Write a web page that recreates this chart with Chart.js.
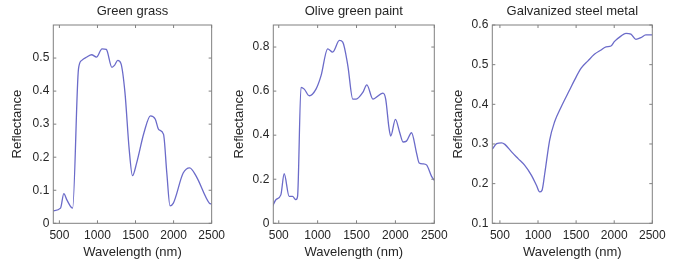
<!DOCTYPE html>
<html>
<head>
<meta charset="utf-8">
<script src="https://cdn.jsdelivr.net/npm/chart.js@4.4.1/dist/chart.umd.min.js"></script>
<style>
    html, body { margin: 0; padding: 0; background: #fff; }
    #wrap { position: relative; width: 694px; height: 266px; overflow: hidden; }
    canvas { position: absolute; top: 0; }
</style>
</head>
<body>
<div id="wrap">
    <canvas id="grass" width="230" height="266" style="left:0px"></canvas>
    <canvas id="paint" width="230" height="266" style="left:230px"></canvas>
    <canvas id="steel" width="244" height="266" style="left:450px"></canvas>
</div>
<script>
// (nm / reflectance)
const grassWl = [420, 515, 558, 600, 674, 751, 794, 860, 923, 987, 1060, 1116, 1190, 1224, 1267, 1309, 1361, 1417, 1460, 1515, 1611, 1696, 1760, 1804, 1868, 1911, 1953, 1997, 2126, 2211, 2298, 2469, 2500];
const grassRefl = [0.038, 0.046, 0.09, 0.07, 0.046, 0.467, 0.493, 0.503, 0.51, 0.503, 0.528, 0.526, 0.472, 0.478, 0.493, 0.483, 0.396, 0.223, 0.144, 0.183, 0.274, 0.325, 0.315, 0.284, 0.269, 0.152, 0.053, 0.061, 0.152, 0.168, 0.142, 0.061, 0.058];

const paintWl = [420, 463, 527, 570, 634, 677, 721, 742, 786, 828, 893, 979, 1044, 1129, 1194, 1280, 1323, 1388, 1452, 1496, 1581, 1633, 1711, 1840, 1875, 1917, 1940, 2000, 2056, 2098, 2142, 2207, 2271, 2305, 2357, 2400, 2465, 2500];
const paintRefl = [0.076, 0.107, 0.129, 0.225, 0.122, 0.122, 0.107, 0.122, 0.617, 0.609, 0.579, 0.609, 0.67, 0.792, 0.777, 0.83, 0.822, 0.716, 0.564, 0.564, 0.594, 0.628, 0.564, 0.591, 0.564, 0.434, 0.396, 0.472, 0.411, 0.369, 0.373, 0.411, 0.32, 0.274, 0.27, 0.265, 0.213, 0.195];

const steelWl = [400, 457, 522, 565, 653, 739, 826, 914, 979, 1022, 1052, 1088, 1153, 1218, 1305, 1414, 1479, 1566, 1653, 1740, 1828, 1893, 1958, 2001, 2088, 2154, 2219, 2284, 2350, 2415, 2500];
const steelRefl = [0.287, 0.301, 0.303, 0.299, 0.28, 0.263, 0.246, 0.221, 0.196, 0.179, 0.183, 0.225, 0.31, 0.356, 0.394, 0.436, 0.461, 0.491, 0.509, 0.526, 0.537, 0.545, 0.547, 0.558, 0.572, 0.579, 0.577, 0.564, 0.568, 0.575, 0.575];

const xTicks = [500, 1000, 1500, 2000, 2500];
const grassTicks = [0, 0.1, 0.2, 0.3, 0.4, 0.5];
const paintTicks = [0, 0.2, 0.4, 0.6, 0.8];
const steelTicks = [0.1, 0.2, 0.3, 0.4, 0.5, 0.6];

const lineColor = '#6b6bc9';
const frameColor = '#808080';
const textColor = '#262626';
const fontFamily = '"Liberation Sans", Arial, sans-serif';

// matlab style box with inward ticks, title centred over the axes box
const frameBox = {
    id: 'frameBox',
    afterDatasetsDraw(chart, args, opts) {
        const ctx = chart.ctx;
        const a = chart.chartArea;
        const x = chart.scales.x, y = chart.scales.y;
        ctx.save();
        ctx.strokeStyle = frameColor;
        ctx.lineWidth = 1;
        ctx.strokeRect(a.left, a.top, a.right - a.left, a.bottom - a.top);
        ctx.beginPath();
        x.ticks.forEach(t => {
            const px = x.getPixelForValue(t.value);
            ctx.moveTo(px, a.bottom); ctx.lineTo(px, a.bottom - 3);
            ctx.moveTo(px, a.top); ctx.lineTo(px, a.top + 3);
        });
        y.ticks.forEach(t => {
            const py = y.getPixelForValue(t.value);
            ctx.moveTo(a.left, py); ctx.lineTo(a.left + 3, py);
            ctx.moveTo(a.right, py); ctx.lineTo(a.right - 3, py);
        });
        ctx.stroke();

        ctx.fillStyle = textColor;
        ctx.font = '13px ' + fontFamily;
        ctx.textAlign = 'center';
        ctx.textBaseline = 'middle';
        ctx.fillText(opts.text, (a.left + a.right) / 2, 11);
        ctx.restore();
    }
};

window.spectrum = (id, title, wl, refl, xMin, yMin, yMax, yTicks, yAxisWidth, rightPad, yTitlePad) => {
    const points = wl.map((w, i) => ({ x: w, y: refl[i] }));

    new Chart(document.getElementById(id).getContext('2d'), {
        type: 'line',
        data: {
            datasets: [{
                data: points,
                borderColor: lineColor,
                borderWidth: 1.3,
                pointRadius: 0,
                fill: false,
                cubicInterpolationMode: 'monotone',
            }],
        },
        options: {
            responsive: false,
            animation: false,
            devicePixelRatio: 1,
            layout: {
                padding: { left: 0, right: rightPad, top: 25, bottom: 0 }
            },
            plugins: {
                legend: { display: false },
                tooltip: { enabled: false },
                title: { display: false },
                frameBox: { text: title }
            },
            scales: {
                x: {
                    type: 'linear',
                    min: xMin,
                    max: 2500,
                    afterBuildTicks: (scale) => { scale.ticks = xTicks.map(v => ({ value: v })); },
                    afterFit: (scale) => { scale.height = 42.7; },
                    grid: { display: false, drawTicks: false },
                    border: { display: false },
                    ticks: {
                        color: textColor,
                        padding: 5,
                        maxRotation: 0,
                        font: { family: fontFamily, size: 12 },
                        callback: (value) => String(value),
                    },
                    title: {
                        display: true,
                        text: 'Wavelength (nm)',
                        color: textColor,
                        font: { family: fontFamily, size: 13 },
                        padding: { top: 0, bottom: 6 },
                    }
                },
                y: {
                    type: 'linear',
                    min: yMin,
                    max: yMax,
                    afterBuildTicks: (scale) => { scale.ticks = yTicks.map(v => ({ value: v })); },
                    afterFit: (scale) => { scale.width = yAxisWidth; },
                    grid: { display: false, drawTicks: false },
                    border: { display: false },
                    ticks: {
                        color: textColor,
                        padding: 4,
                        font: { family: fontFamily, size: 12 },
                        callback: (value) => String(value),
                    },
                    title: {
                        display: true,
                        text: 'Reflectance',
                        color: textColor,
                        font: { family: fontFamily, size: 13 },
                        padding: { top: yTitlePad, bottom: 0 },
                    }
                }
            }
        },
        plugins: [frameBox]
    });
}

spectrum('grass', 'Green grass', grassWl, grassRefl, 420, 0, 0.6, grassTicks, 53.3, 14.3, 10);
spectrum('paint', 'Olive green paint', paintWl, paintRefl, 430, 0, 0.9, paintTicks, 43.3, 25.7, 2);
spectrum('steel', 'Galvanized steel metal', steelWl, steelRefl, 400, 0.1, 0.6, steelTicks, 42.3, 41.7, 1);
</script>
</body>
</html>
